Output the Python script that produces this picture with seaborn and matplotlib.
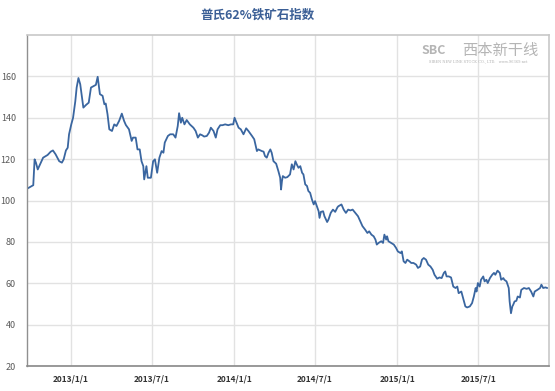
import matplotlib
matplotlib.use("Agg")
import matplotlib.pyplot as plt
import seaborn as sns
import pandas as pd

dates = [
    "2012-09-26", "2012-10-09", "2012-10-12", "2012-10-15", "2012-10-19", "2012-10-26",
    "2012-10-31", "2012-11-10", "2012-11-17", "2012-11-22", "2012-11-28", "2012-12-06",
    "2012-12-12", "2012-12-16", "2012-12-21", "2012-12-25", "2012-12-28", "2013-01-02",
    "2013-01-06", "2013-01-11", "2013-01-14", "2013-01-18", "2013-01-22", "2013-01-26",
    "2013-01-29", "2013-02-04", "2013-02-10", "2013-02-15", "2013-02-22", "2013-02-26",
    "2013-03-02", "2013-03-07", "2013-03-13", "2013-03-17", "2013-03-20", "2013-03-24",
    "2013-03-28", "2013-04-03", "2013-04-08", "2013-04-13", "2013-04-19", "2013-04-25",
    "2013-04-30", "2013-05-04", "2013-05-11", "2013-05-17", "2013-05-20", "2013-05-26",
    "2013-05-30", "2013-06-04", "2013-06-08", "2013-06-12", "2013-06-14", "2013-06-19",
    "2013-06-22", "2013-06-29", "2013-07-04", "2013-07-08", "2013-07-13", "2013-07-18",
    "2013-07-23", "2013-07-27", "2013-07-30", "2013-08-06", "2013-08-11", "2013-08-18",
    "2013-08-23", "2013-08-28", "2013-08-31", "2013-09-04", "2013-09-07", "2013-09-12",
    "2013-09-17", "2013-09-24", "2013-10-02", "2013-10-07", "2013-10-12", "2013-10-17",
    "2013-10-22", "2013-10-26", "2013-11-01", "2013-11-06", "2013-11-10", "2013-11-16",
    "2013-11-21", "2013-11-25", "2013-12-01", "2013-12-06", "2013-12-12", "2013-12-19",
    "2013-12-25", "2013-12-30", "2014-01-02", "2014-01-11", "2014-01-16", "2014-01-22",
    "2014-01-28", "2014-02-02", "2014-02-10", "2014-02-15", "2014-02-21", "2014-02-24",
    "2014-03-04", "2014-03-08", "2014-03-11", "2014-03-15", "2014-03-19", "2014-03-23",
    "2014-03-26", "2014-03-30", "2014-04-05", "2014-04-10", "2014-04-14", "2014-04-16",
    "2014-04-18", "2014-04-20", "2014-04-25", "2014-04-30", "2014-05-06", "2014-05-10",
    "2014-05-14", "2014-05-18", "2014-05-21", "2014-05-25", "2014-05-29", "2014-06-02",
    "2014-06-05", "2014-06-09", "2014-06-13", "2014-06-16", "2014-06-20", "2014-06-24",
    "2014-06-28", "2014-07-01", "2014-07-05", "2014-07-09", "2014-07-11", "2014-07-14",
    "2014-07-19", "2014-07-22", "2014-07-28", "2014-07-31", "2014-08-05", "2014-08-10",
    "2014-08-15", "2014-08-20", "2014-08-22", "2014-08-29", "2014-09-03", "2014-09-08",
    "2014-09-13", "2014-09-18", "2014-09-23", "2014-09-29", "2014-10-05", "2014-10-10",
    "2014-10-15", "2014-10-21", "2014-10-26", "2014-10-30", "2014-11-04", "2014-11-09",
    "2014-11-13", "2014-11-16", "2014-11-20", "2014-11-26", "2014-11-30", "2014-12-03",
    "2014-12-07", "2014-12-09", "2014-12-12", "2014-12-18", "2014-12-24", "2014-12-29",
    "2015-01-02", "2015-01-08", "2015-01-11", "2015-01-15", "2015-01-19", "2015-01-23",
    "2015-01-28", "2015-02-01", "2015-02-06", "2015-02-12", "2015-02-16", "2015-02-21",
    "2015-02-25", "2015-03-01", "2015-03-06", "2015-03-11", "2015-03-16", "2015-03-21",
    "2015-03-25", "2015-03-31", "2015-04-05", "2015-04-10", "2015-04-15", "2015-04-18",
    "2015-04-21", "2015-04-26", "2015-05-01", "2015-05-06", "2015-05-11", "2015-05-15",
    "2015-05-18", "2015-05-24", "2015-05-28", "2015-06-02", "2015-06-06", "2015-06-12",
    "2015-06-17", "2015-06-21", "2015-06-25", "2015-06-27", "2015-06-30", "2015-07-04",
    "2015-07-07", "2015-07-12", "2015-07-15", "2015-07-19", "2015-07-22", "2015-07-27",
    "2015-08-01", "2015-08-05", "2015-08-08", "2015-08-13", "2015-08-18", "2015-08-21",
    "2015-08-26", "2015-08-28", "2015-09-02", "2015-09-07", "2015-09-09", "2015-09-12",
    "2015-09-15", "2015-09-17", "2015-09-20", "2015-09-24", "2015-09-27", "2015-10-02",
    "2015-10-05", "2015-10-11", "2015-10-17", "2015-10-22", "2015-10-27", "2015-11-01",
    "2015-11-04", "2015-11-10", "2015-11-16", "2015-11-19", "2015-11-23", "2015-11-28",
    "2015-12-02",
]

index_values = [
    105.8, 107.4, 119.9, 118.3, 115.0, 118.3,
    120.7, 122.0, 123.6, 124.2, 122.3, 119.0,
    118.3, 119.9, 124.2, 125.5, 132.0, 136.8,
    140.0, 148.0, 154.6, 159.2, 156.2, 149.8,
    144.9, 146.2, 147.3, 154.6, 155.4, 155.9,
    159.8, 151.4, 150.6, 146.5, 146.9, 141.7,
    134.4, 133.6, 136.8, 136.0, 138.5, 142.0,
    138.5, 136.5, 134.4, 128.8, 130.4, 130.4,
    124.7, 124.7, 119.0, 116.6, 110.2, 116.6,
    111.0, 111.0, 119.0, 119.9, 113.4, 120.7,
    123.9, 123.1, 128.0, 131.2, 132.0, 132.0,
    130.4, 136.0, 142.2, 137.6, 140.0, 136.8,
    138.9, 136.8, 135.2, 133.6, 130.4, 132.0,
    131.5, 130.9, 131.2, 132.8, 135.2, 133.6,
    130.4, 134.4, 136.4, 136.4, 136.8, 136.4,
    136.8, 136.8, 140.0, 135.2, 134.4, 132.0,
    134.9, 133.6, 131.2, 129.6, 123.9, 124.7,
    123.9, 123.6, 121.5, 120.7, 123.1, 124.7,
    123.1, 119.0, 117.8, 114.2, 111.0, 105.3,
    109.4, 111.8, 111.0, 111.3, 112.6, 117.5,
    115.0, 119.0, 117.5, 115.8, 116.6, 113.4,
    112.6, 107.8, 107.0, 104.6, 103.7, 100.5,
    98.1, 99.7, 97.2, 94.8, 91.6, 94.5,
    94.8, 92.4, 89.6, 90.8, 94.0, 95.6,
    94.5, 96.7, 97.2, 98.1, 95.6, 94.0,
    95.6, 95.2, 95.6, 94.0, 92.4, 90.0,
    87.6, 85.9, 84.3, 85.1, 83.5, 82.7,
    81.1, 78.7, 79.5, 80.3, 79.5, 83.5,
    81.1, 82.7, 80.3, 79.5, 78.7, 77.1,
    75.4, 74.6, 75.4, 70.6, 69.8, 71.4,
    70.6, 69.8, 69.8, 69.0, 67.4, 68.1,
    71.4, 72.2, 71.4, 69.0, 68.1, 66.5,
    64.1, 62.2, 62.8, 62.5, 65.0, 65.7,
    63.3, 63.3, 62.8, 58.4, 57.7, 58.4,
    55.2, 56.0, 52.8, 48.8, 48.3, 48.8,
    50.4, 53.6, 57.7, 56.0, 60.1, 58.4,
    61.7, 63.3, 60.9, 61.7, 60.1, 62.5,
    64.1, 65.0, 64.1, 66.1, 65.0, 61.7,
    62.5, 61.7, 60.9, 57.7, 51.2, 45.5,
    48.8, 49.6, 51.2, 51.5, 53.6, 53.1,
    56.8, 57.7, 57.3, 57.7, 56.0, 53.6,
    56.0, 56.8, 57.7, 59.3, 57.7, 58.0,
    57.7,
]

x_tick_dates = ["2013-01-01", "2013-07-01", "2014-01-01", "2014-07-01", "2015-01-01", "2015-07-01"]
x_tick_labels = ["2013/1/1", "2013/7/1", "2014/1/1", "2014/7/1", "2015/1/1", "2015/7/1"]
y_ticks = [20, 40, 60, 80, 100, 120, 140, 160]
title = "普氏62%铁矿石指数"

sns.set_theme(style="white")
plt.rcParams["font.family"] = ["Noto Sans CJK SC", "DejaVu Sans"]

df = pd.DataFrame({"date": pd.to_datetime(dates), "value": index_values})

fig = plt.figure(figsize=(5.55, 3.91), dpi=100)
ax = fig.add_axes([27 / 555, 25 / 391, 522 / 555, 331 / 391])

sns.lineplot(data=df, x="date", y="value", ax=ax, color="#3a66a0", linewidth=1.3)

ax.set_xlim(pd.Timestamp("2012-09-25"), pd.Timestamp("2015-12-06"))
ax.set_ylim(20, 180)
ax.set_yticks(y_ticks)
ax.set_yticklabels([str(v) for v in y_ticks], fontsize=6.5, color="#5a5a5a")
xt = pd.to_datetime(x_tick_dates)
ax.set_xticks(xt)
ax.set_xticklabels(x_tick_labels, fontsize=6, color="#333333", fontweight="bold")
ax.tick_params(axis="both", length=0, pad=8)
ax.tick_params(axis="x", pad=6)

ax.grid(True, color="#e2e2e2", linewidth=1.0)
ax.set_axisbelow(True)
ax.set_xlabel("")
ax.set_ylabel("")

for side in ["top", "right"]:
    ax.spines[side].set_visible(True)
    ax.spines[side].set_color("#c8c8c8")
    ax.spines[side].set_linewidth(1.2)
ax.spines["left"].set_color("#909090")
ax.spines["left"].set_linewidth(1.0)
ax.spines["bottom"].set_color("#888888")
ax.spines["bottom"].set_linewidth(1.2)

fig.text(258 / 555, 1 - 15 / 391, title, ha="center", va="center",
         fontsize=9, fontweight="bold", color="#3b5f96")

# watermark
fig.text(500 / 555, 1 - 50 / 391, "西本新干线", ha="center", va="center",
         fontsize=11, color="#b5b5b5")
fig.text(434 / 555, 1 - 50 / 391, "SBC", ha="center", va="center",
         fontsize=9, fontweight="bold", color="#b5b5b5")
fig.text(478 / 555, 1 - 61 / 391, "SIBEN NEW LINE STOCK CO., LTD.   www.96369.net",
         ha="center", va="center", fontsize=2.6, color="#b0b0b0",
         family=["DejaVu Serif"])

fig.savefig("out.png", dpi=100, facecolor="white")
